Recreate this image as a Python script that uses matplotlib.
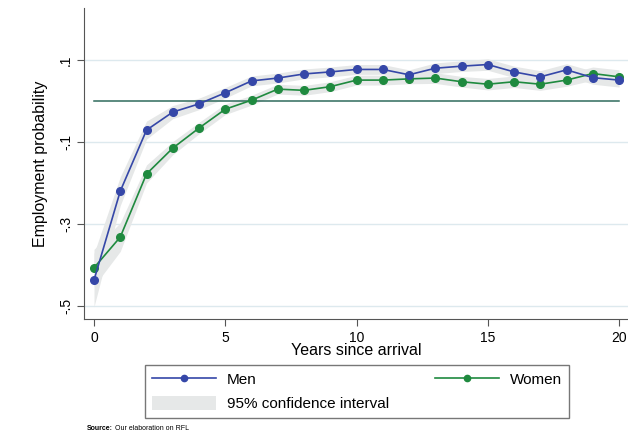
import numpy as np
import matplotlib.pyplot as plt
from matplotlib.patches import Patch

plt.rcParams['font.family'] = ['Liberation Sans', 'DejaVu Sans']

# years since arrival and estimated employment probability
years = list(range(21))
men = [-0.437, -0.220, -0.071, -0.027, -0.007, 0.020, 0.049, 0.056, 0.066, 0.071,
       0.077, 0.077, 0.064, 0.080, 0.085, 0.089, 0.071, 0.059, 0.076, 0.057, 0.051]
women = [-0.407, -0.332, -0.178, -0.115, -0.066, -0.020, 0.002, 0.029, 0.026, 0.035,
         0.051, 0.051, 0.054, 0.056, 0.047, 0.041, 0.047, 0.041, 0.051, 0.067, 0.059]
# half width of the 95% confidence interval
men_ci = [0.065, 0.035, 0.022, 0.016, 0.014, 0.013, 0.012, 0.012, 0.012, 0.012,
          0.012, 0.012, 0.012, 0.013, 0.013, 0.014, 0.014, 0.015, 0.015, 0.016, 0.017]
women_ci = [0.045, 0.035, 0.022, 0.016, 0.014, 0.013, 0.012, 0.012, 0.012, 0.012,
            0.012, 0.012, 0.012, 0.013, 0.013, 0.014, 0.014, 0.015, 0.015, 0.016, 0.017]

yticks = [0.1, -0.1, -0.3, -0.5]
ylabels = ['.1', '-.1', '-.3', '-.5']

blue = '#3547a8'
green = '#1f8a3f'
band = '#e6e8e8'

fig = plt.figure(figsize=(6.28, 4.36), dpi=100)
ax = fig.add_axes([0.1338, 0.2683, 0.8662, 0.7134])

x = np.array(years)
m, w = np.array(men), np.array(women)
mc, wc = np.array(men_ci), np.array(women_ci)

ax.fill_between(x, m - mc, m + mc, color=band, lw=0, zorder=1)
ax.fill_between(x, w - wc, w + wc, color=band, lw=0, zorder=1)
ax.axhline(0, xmin=(0 - -0.38) / 20.72, xmax=(20 - -0.38) / 20.72,
           color='#2f6b5c', lw=1.1, zorder=2)
men_line, = ax.plot(x, m, color=blue, lw=1.2, marker='o', ms=5.5, zorder=4)
women_line, = ax.plot(x, w, color=green, lw=1.2, marker='o', ms=5.5, zorder=3)

for yv in yticks:
    ax.axhline(yv, color='#dde9ee', lw=1, zorder=0)

ax.set_xlim(-0.38, 20.34)
ax.set_ylim(-0.532, 0.227)
ax.set_xticks([0, 5, 10, 15, 20])
ax.set_yticks(yticks)
ax.set_yticklabels(ylabels, rotation=90, va='center')
ax.tick_params(axis='both', labelsize=10, color='#555555', length=5)
ax.tick_params(axis='y', pad=3)
for s in ['top', 'right']:
    ax.spines[s].set_visible(False)
for s in ['left', 'bottom']:
    ax.spines[s].set_color('#555555')

ax.set_xlabel('Years since arrival', fontsize=11.5, labelpad=-1)
ax.set_ylabel('Employment probability', fontsize=11.5, labelpad=8)

leg = fig.legend([men_line, Patch(facecolor=band, edgecolor='none'), women_line],
                 ['Men', '95% confidence interval', 'Women'],
                 ncol=2, loc='lower left', mode='expand',
                 bbox_to_anchor=(0.231, 0.041, 0.675, 0.117),
                 fontsize=11, frameon=True, fancybox=False, edgecolor='#555555',
                 handlelength=4.2, handleheight=1.1, borderpad=0.45,
                 labelspacing=0.55, handletextpad=0.7, borderaxespad=0)
for lh in [leg.legend_handles[0], leg.legend_handles[2]]:
    lh.set_markersize(4.5)
leg.get_frame().set_linewidth(1)

fig.text(0.139, 0.013, 'Source:', fontsize=5, fontweight='bold')
fig.text(0.183, 0.013, 'Our elaboration on RFL', fontsize=5)

fig.savefig('out.png', dpi=100)
